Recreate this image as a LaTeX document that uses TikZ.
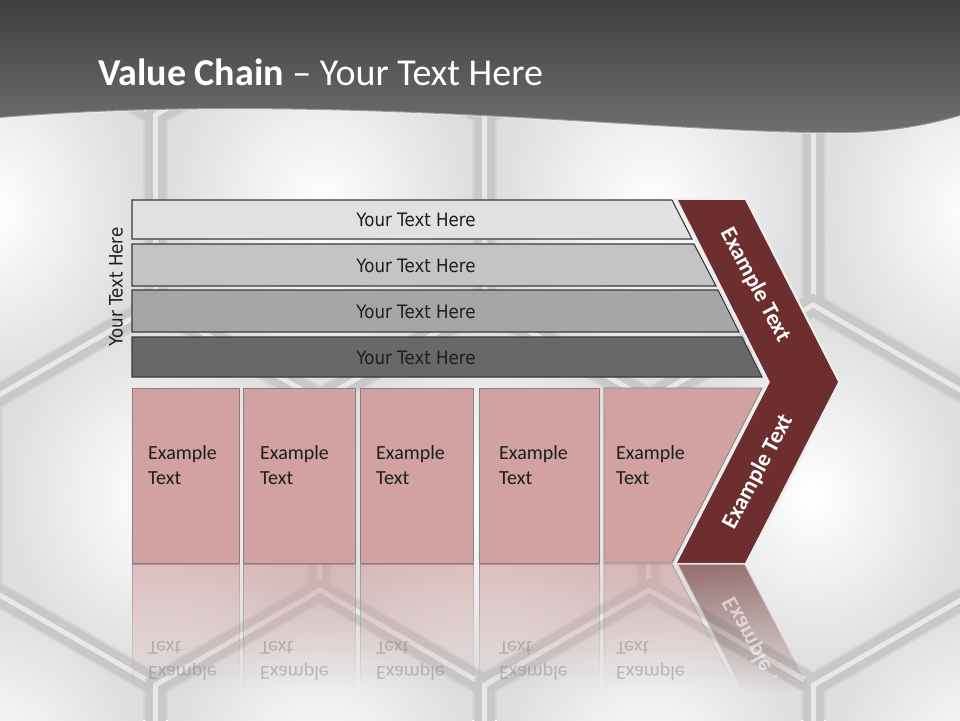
\documentclass[tikz,border=0pt]{standalone}
\usepackage{fontspec}
\setmainfont{Carlito}
\newfontfamily\barfont[FakeStretch=0.9]{DejaVu Sans}
\usetikzlibrary{fadings}
\definecolor{bgbase}{RGB}{212,212,212}
\definecolor{hexframe}{RGB}{200,200,200}
\definecolor{hexframehi}{RGB}{232,232,232}
\definecolor{hexout}{RGB}{222,222,222}
\definecolor{headtop}{RGB}{62,62,62}
\definecolor{headbot}{RGB}{112,112,112}
\definecolor{barA}{RGB}{225,225,225}
\definecolor{barB}{RGB}{196,196,196}
\definecolor{barC}{RGB}{166,166,166}
\definecolor{barD}{RGB}{104,104,104}
\definecolor{barline}{RGB}{58,58,58}
\definecolor{pinkbox}{RGB}{210,161,162}
\definecolor{pinkline}{RGB}{140,128,128}
\definecolor{maroon}{RGB}{108,46,46}
\definecolor{chevedge}{RGB}{238,238,238}
\definecolor{txtdark}{RGB}{30,30,30}
\tikzfading[name=reflfade, top color=transparent!35, bottom color=transparent!100]
\begin{document}
\begin{tikzpicture}[x=1pt,y=-1pt,
  barshape/.style={draw=barline, line width=1.1pt},
  pinkshape/.style={draw=pinkline, line width=0.8pt, fill=pinkbox},
  reflshape/.style={draw=pinkline, line width=0.8pt, fill=pinkbox, path fading=reflfade},
  bartext/.style={anchor=base, inner sep=0pt, text=txtdark, font=\barfont\fontsize{18.5}{22}\selectfont},
  boxtext/.style={anchor=west, inner sep=0pt, align=left, text=txtdark, font=\fontsize{20}{25}\selectfont},
  refltext/.style={anchor=west, inner sep=0pt, align=left, text=gray, opacity=0.45, yscale=-1, font=\fontsize{20}{25}\selectfont},
  chevtext/.style={inner sep=0pt, text=white, font=\bfseries\fontsize{23}{26}\selectfont}]
\useasboundingbox (0,0) rectangle (960,720);
% background
\fill[bgbase] (0,0) rectangle (960,720);
\foreach \cx/\cy in {-9/210,320/210,649/210,978/210,155/495,484/495,813/495,-9/780,320/780,649/780,978/780} {
  \shade[inner color=white, outer color=hexout]
    ({\cx},{\cy-176}) -- ({\cx+152},{\cy-88}) -- ({\cx+152},{\cy+88}) -- ({\cx},{\cy+176}) -- ({\cx-152},{\cy+88}) -- ({\cx-152},{\cy-88}) -- cycle;
  \draw[hexframe, line width=20pt, line join=miter]
    ({\cx},{\cy-190}) -- ({\cx+164.5},{\cy-95}) -- ({\cx+164.5},{\cy+95}) -- ({\cx},{\cy+190}) -- ({\cx-164.5},{\cy+95}) -- ({\cx-164.5},{\cy-95}) -- cycle;
  \draw[hexframehi, line width=5pt, line join=miter]
    ({\cx},{\cy-190}) -- ({\cx+164.5},{\cy-95}) -- ({\cx+164.5},{\cy+95}) -- ({\cx},{\cy+190}) -- ({\cx-164.5},{\cy+95}) -- ({\cx-164.5},{\cy-95}) -- cycle;
}
% header
\shade[top color=headtop, bottom color=headbot]
  (0,0) -- (960,0) -- (960,116) .. controls (940,122) and (900,132) .. (850,133)
  .. controls (760,135) and (600,121) .. (440,114)
  .. controls (260,106) and (120,108) .. (0,118) -- cycle;
\draw[white, opacity=0.35, line width=2pt]
  (960,116) .. controls (940,122) and (900,132) .. (850,133)
  .. controls (760,135) and (600,121) .. (440,114)
  .. controls (260,106) and (120,108) .. (0,118);
\node[anchor=base west, inner sep=0pt, text=white, font=\fontsize{38}{42}\selectfont] (title) at (98,85)
  {{\bfseries Value Chain} – Your Text Here};
% bars
\draw[barshape, fill=barA] (132,200) -- (672,200) -- (692,239) -- (132,239) -- cycle;
\draw[barshape, fill=barB] (132,244) -- (694,244) -- (716,286) -- (132,286) -- cycle;
\draw[barshape, fill=barC] (132,290) -- (718,290) -- (739,332) -- (132,332) -- cycle;
\draw[barshape, fill=barD] (132,337) -- (742,337) -- (762,377) -- (132,377) -- cycle;
\node[bartext] (t1) at (416,226.5) {Your Text Here};
\node[bartext] (t2) at (416,272) {Your Text Here};
\node[bartext] (t3) at (416,318) {Your Text Here};
\node[bartext] (t4) at (416,364) {Your Text Here};
\node[bartext, rotate=90] (side) at (122.5,287) {Your Text Here};
% chevron
\coordinate (c1) at (678,200);
\coordinate (c2) at (745,200);
\coordinate (c3) at (838,382);
\coordinate (c4) at (745,563);
\coordinate (c5) at (677,563);
\coordinate (c6) at (770,382);
\draw[chevedge, line width=5pt, line join=miter] (c1) -- (c2) -- (c3) -- (c4) -- (c5) -- (c6) -- cycle;
\fill[maroon] (c1) -- (c2) -- (c3) -- (c4) -- (c5) -- (c6) -- cycle;
\node[chevtext, rotate=-62] (ch1) at (755,285) {Example Text};
\node[chevtext, rotate=62] (ch2) at (758,472) {Example Text};
% pink boxes
\draw[pinkshape] (132,388) rectangle (239,563);
\draw[pinkshape] (243,388) rectangle (355,563);
\draw[pinkshape] (360,388) rectangle (473,563);
\draw[pinkshape] (479,388) rectangle (599,563);
\draw[pinkshape] (604,388) -- (762,388) -- (672,563) -- (604,563) -- cycle;
\node[boxtext] (b1) at (148,465) {Example\\Text};
\node[boxtext] (b2) at (260,465) {Example\\Text};
\node[boxtext] (b3) at (376,465) {Example\\Text};
\node[boxtext] (b4) at (499,465) {Example\\Text};
\node[boxtext] (b5) at (616,465) {Example\\Text};
% reflections
\path[reflshape] (132,564) rectangle (239,690);
\path[reflshape] (243,564) rectangle (355,690);
\path[reflshape] (360,564) rectangle (473,690);
\path[reflshape] (479,564) rectangle (599,690);
\path[reflshape] (604,564) -- (672,564) -- (737,690) -- (604,690) -- cycle;
\path[draw=chevedge, line width=2pt, fill=maroon, path fading=reflfade] (677,564) -- (745,564) -- (810,690) -- (742,690) -- cycle;
\node[refltext] (r1) at (148,661) {Example\\Text};
\node[refltext] (r2) at (260,661) {Example\\Text};
\node[refltext] (r3) at (376,661) {Example\\Text};
\node[refltext] (r4) at (499,661) {Example\\Text};
\node[refltext] (r5) at (616,661) {Example\\Text};
\begin{scope}
\clip (660,564) rectangle (840,676);
\node[chevtext, opacity=0.55, rotate=-62, yscale=-1] (rch) at (758,654) {Example Text};
\end{scope}
\end{tikzpicture}
\end{document}
